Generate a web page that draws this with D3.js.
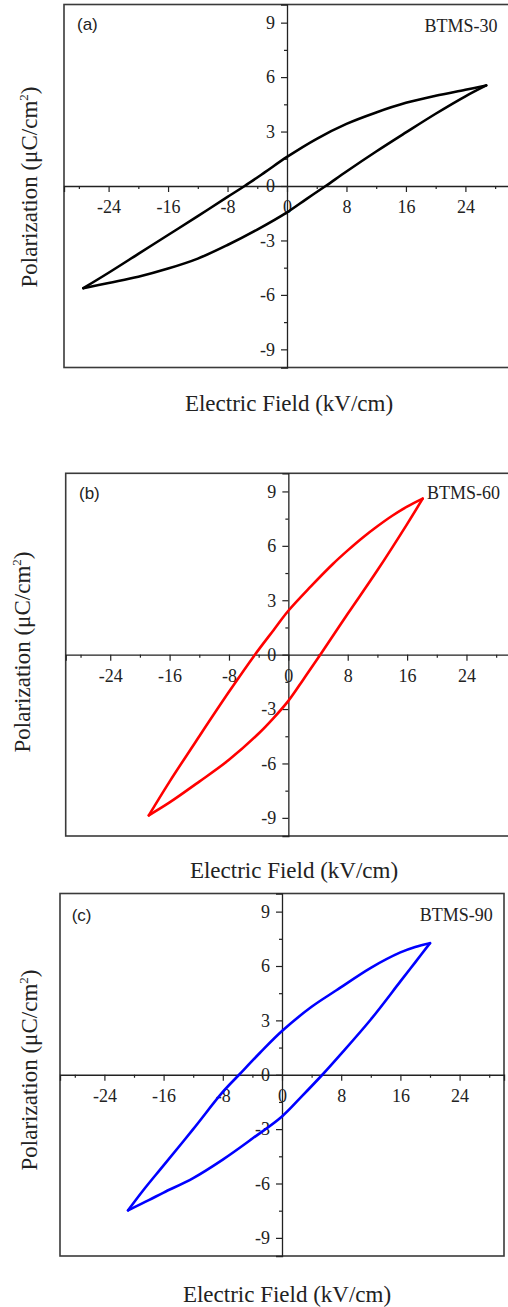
<!DOCTYPE html>
<html>
<head>
<meta charset="utf-8">
<script src="https://cdn.jsdelivr.net/npm/d3@7"></script>
<style>
  html, body { margin: 0; padding: 0; background: #fff; }
  svg { display: block; }
</style>
</head>
<body>
<svg id="chart" width="508" height="1307"></svg>
<script>
// P–E hysteresis loops. Each loop is stored as its two branches, both listed
// in order of increasing field: the upper (descending-field) branch and the
// lower (ascending-field) branch. Points are [E (kV/cm), P (µC/cm²)].
const upper30 = [
  [-27.4, -5.63], [-24, -4.78], [-20, -3.74], [-16, -2.7], [-12, -1.66], [-8, -0.6],
  [-5.7, 0], [-3, 0.75], [0, 1.6], [4, 2.6], [8, 3.42], [12, 4.05], [16, 4.58],
  [20, 4.97], [24, 5.3], [26.8, 5.54]
];
const lower30 = [
  [-27.4, -5.63], [-24, -5.34], [-20, -5.0], [-16, -4.55], [-12, -4.0], [-8, -3.25],
  [-4, -2.4], [0, -1.45], [2.6, -0.72], [5.2, 0], [8, 0.8], [12, 1.9], [16, 2.95],
  [20, 3.98], [24, 4.94], [26.8, 5.54]
];
const upper60 = [
  [-18.8, -8.86], [-16, -7.0], [-12, -4.5], [-8, -2.05], [-4.5, 0],
  [-2, 1.35], [0, 2.42], [3, 3.75], [6, 5.0], [8, 5.75], [10, 6.45], [12, 7.08],
  [14, 7.66], [16, 8.16], [18.1, 8.6]
];
const lower60 = [
  [-18.8, -8.86], [-16, -8.15], [-12, -7.0], [-8, -5.8], [-4, -4.35], [-2, -3.5],
  [0, -2.55], [2, -1.38], [4.3, 0], [8, 2.25], [12, 4.65], [16, 7.2], [18.1, 8.6]
];
const upper90 = [
  [-20.8, -7.48], [-18.8, -6.4], [-16, -5.0], [-12, -3.0], [-8, -0.95], [-5.8, 0],
  [-3, 1.2], [0, 2.41], [4, 3.75], [7.35, 4.66], [12, 5.9], [16, 6.75], [18, 7.05],
  [20, 7.26]
];
const lower90 = [
  [-20.8, -7.48], [-18, -6.92], [-16, -6.5], [-12, -5.7], [-8, -4.68], [-4, -3.52],
  [0, -2.3], [2.7, -1.18], [5.45, 0], [7.8, 1.07], [12, 3.05], [16, 5.15], [18, 6.2],
  [20, 7.26]
];

const sampleNames = ["BTMS-30", "BTMS-60", "BTMS-90"];
const panelTags = ["(a)", "(b)", "(c)"];
const fieldDomain = [-30, 30];
const polDomain = [-10, 10];
const fieldMajor = [-24, -16, -8, 0, 8, 16, 24];
const fieldMinor = [-28, -20, -12, -4, 4, 12, 20, 28];
const polMajor = [-9, -6, -3, 0, 3, 6, 9];
const polMinor = [-7.5, -4.5, -1.5, 1.5, 4.5, 7.5];
const xTitle = "Electric Field (kV/cm)";

const panels = [
  { branches: [upper30, lower30], color: "#000000",
    xr: [64, 510], yr: [367.5, 4.5],
    tag: [77, 29.5], name: [497.5, 31.7],
    yTitle: [37, 187], xTitleAt: [289, 410.7] },
  { branches: [upper60, lower60], color: "#ff0000",
    xr: [65.7, 511], yr: [836, 473.3],
    tag: [79, 499], name: [500, 499.3],
    yTitle: [30, 652], xTitleAt: [294, 877.7] },
  { branches: [upper90, lower90], color: "#0000ff",
    xr: [60, 504], yr: [1256, 893.5],
    tag: [71.7, 921], name: [492.7, 920.7],
    yTitle: [36.5, 1070], xTitleAt: [287, 1301.7] }
];

const svg = d3.select("#chart");
const serif = "Liberation Serif";
const sans = "Liberation Sans";
const ink = "#222";

function styleTicks(sel) {
  sel.attr("font-family", serif).attr("font-size", 18);
  sel.select(".domain").attr("stroke", ink).attr("stroke-width", 1.3);
  sel.selectAll(".tick line").attr("stroke", ink).attr("stroke-width", 1.2);
  sel.selectAll(".tick text").attr("fill", ink)
    .style("font-family", serif).style("font-size", "18px");
}

panels.forEach((p, i) => {
  const x = d3.scaleLinear().domain(fieldDomain).range(p.xr);
  const y = d3.scaleLinear().domain(polDomain).range(p.yr);
  const g = svg.append("g");

  // plot frame
  g.append("rect")
    .attr("x", p.xr[0]).attr("y", p.yr[1])
    .attr("width", p.xr[1] - p.xr[0]).attr("height", p.yr[0] - p.yr[1])
    .attr("fill", "none").attr("stroke", "#3a3a3a").attr("stroke-width", 1.6);

  // horizontal axis through P = 0
  const xAxis = g.append("g").attr("transform", `translate(0,${y(0)})`)
    .call(d3.axisBottom(x).tickValues(fieldMajor).tickSizeOuter(0).tickSize(6))
    .call(styleTicks);
  xAxis.selectAll(".tick text").attr("y", 27).attr("dy", 0).text(d => String(d));
  g.append("g").attr("transform", `translate(0,${y(0)})`)
    .call(d3.axisBottom(x).tickValues(fieldMinor).tickSizeOuter(0).tickSize(3).tickFormat(""))
    .call(s => s.select(".domain").remove())
    .selectAll(".tick line").attr("stroke", ink).attr("stroke-width", 1.2);

  // vertical axis through E = 0
  const yAxis = g.append("g").attr("transform", `translate(${x(0)},0)`)
    .call(d3.axisLeft(y).tickValues(polMajor).tickSizeOuter(0).tickSize(6).tickPadding(6))
    .call(styleTicks);
  yAxis.selectAll(".tick text").text(d => String(d));
  g.append("g").attr("transform", `translate(${x(0)},0)`)
    .call(d3.axisLeft(y).tickValues(polMinor).tickSizeOuter(0).tickSize(3).tickFormat(""))
    .call(s => s.select(".domain").remove())
    .selectAll(".tick line").attr("stroke", ink).attr("stroke-width", 1.2);

  // hysteresis loop: both branches meet at the field extremes
  const line = d3.line()
    .x(d => x(d[0])).y(d => y(d[1]))
    .curve(d3.curveCatmullRom.alpha(0.5));
  g.selectAll("path.loop")
    .data(p.branches)
    .join("path")
    .attr("class", "loop")
    .attr("d", line)
    .attr("fill", "none")
    .attr("stroke", p.color)
    .attr("stroke-width", 2.6)
    .attr("stroke-linejoin", "round")
    .attr("stroke-linecap", "round");

  // panel tag and sample name
  g.append("text").attr("x", p.tag[0]).attr("y", p.tag[1])
    .attr("font-family", sans).attr("font-size", 17).attr("fill", ink)
    .text(panelTags[i]);
  g.append("text").attr("x", p.name[0]).attr("y", p.name[1])
    .attr("text-anchor", "end")
    .attr("font-family", serif).attr("font-size", 18).attr("fill", ink)
    .text(sampleNames[i]);

  // axis titles
  const yt = g.append("text")
    .attr("transform", `translate(${p.yTitle[0]},${p.yTitle[1]}) rotate(-90)`)
    .attr("text-anchor", "middle")
    .attr("font-family", serif).attr("font-size", 23).attr("fill", ink);
  yt.append("tspan").text("Polarization (μC/cm");
  yt.append("tspan").attr("font-size", 13).attr("dy", -9).text("2");
  yt.append("tspan").attr("dy", 9).text(")");

  g.append("text")
    .attr("x", p.xTitleAt[0]).attr("y", p.xTitleAt[1])
    .attr("text-anchor", "middle")
    .attr("font-family", serif).attr("font-size", 23).attr("fill", ink)
    .text(xTitle);
});
</script>
</body>
</html>
